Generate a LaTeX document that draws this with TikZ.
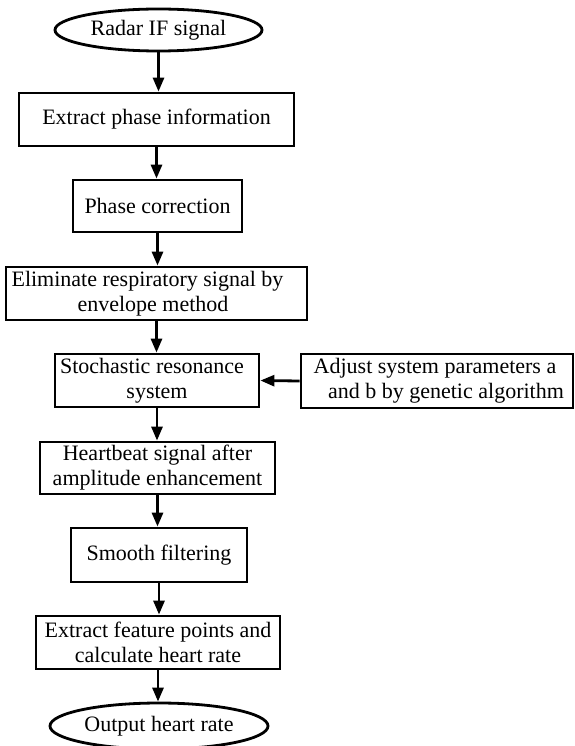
\documentclass[tikz,border=0pt]{standalone}
\usepackage{fontspec}
\setmainfont{Liberation Serif}
\usetikzlibrary{shapes.geometric,arrows.meta}
\begin{document}
\begin{tikzpicture}[x=1pt,y=-1pt,
  every node/.style={font=\fontsize{22}{25}\selectfont, align=center, inner sep=0pt},
  stepbox/.style={draw, line width=2.8pt, rectangle},
  term/.style={draw, line width=2.8pt, ellipse},
  flow/.style={line width=2.8pt, -{Triangle[length=14pt,width=11pt]}}]
\useasboundingbox (0,0) rectangle (574,746);
\node[term, minimum width=207pt, minimum height=42pt] (e1) at (158.5,30) {Radar IF signal};
\node[stepbox, minimum width=275pt, minimum height=53pt] (b1) at (156.5,119.5) {Extract phase information};
\node[stepbox, minimum width=169pt, minimum height=52pt] (b2) at (157.5,206) {Phase correction};
\node[stepbox, minimum width=301pt, minimum height=53pt] (b3) at (156.5,293.5) {Eliminate respiratory signal by\hspace*{18pt}\\envelope method\hspace*{7pt}};
\node[stepbox, minimum width=204pt, minimum height=53pt] (b4) at (157,380.5) {Stochastic resonance\hspace*{10pt}\\system};
\node[stepbox, minimum width=272pt, minimum height=54pt] (b5) at (437,381) {Adjust system parameters a\hspace*{4pt}\\\hspace*{18pt}and b by genetic algorithm};
\node[stepbox, minimum width=235pt, minimum height=52pt] (b6) at (157.5,468) {Heartbeat signal after\\amplitude enhancement};
\node[stepbox, minimum width=176pt, minimum height=54pt] (b7) at (159,555) {Smooth filtering};
\node[stepbox, minimum width=244pt, minimum height=53pt] (b8) at (158,642.5) {Extract feature points and\\calculate heart rate};
\node[term, minimum width=218pt, minimum height=46pt] (e2) at (159,726) {Output heart rate};
\draw[flow] (e1.south) -- (e1.south |- b1.north);
\draw[flow] (b1.south) -- (b1.south |- b2.north);
\draw[flow] (b2.south) -- (b2.south |- b3.north);
\draw[flow] (b3.south) -- (b3.south |- b4.north);
\draw[flow] (b4.south) -- (b4.south |- b6.north);
\draw[flow] (b6.south) -- (b6.south |- b7.north);
\draw[flow] (b7.south) -- (b7.south |- b8.north);
\draw[flow] (b8.south) -- (b8.south |- e2.north);
\draw[flow] (b5.west) -- (b4.east);
\end{tikzpicture}
\end{document}
